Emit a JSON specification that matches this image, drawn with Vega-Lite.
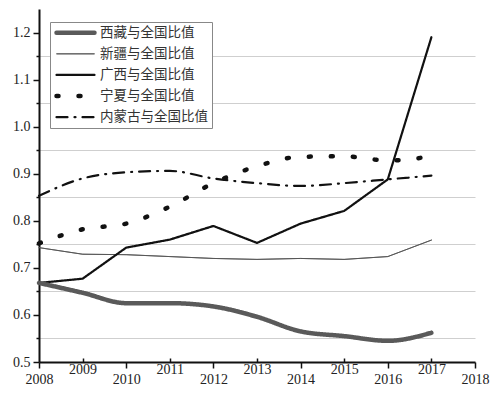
{
  "$schema": "https://vega.github.io/schema/vega-lite/v6.json",
  "width": 436,
  "height": 353,
  "autosize": {"type": "none"},
  "padding": {"left": 39, "top": 9, "right": 22, "bottom": 34},
  "background": "white",
  "config": {
    "view": {"stroke": null},
    "axis": {"labelFont": "Liberation Serif", "labelFontSize": 14, "labelColor": "#222", "domainColor": "#111", "domainWidth": 2, "tickColor": "#111", "tickWidth": 1.5, "title": null}
  },
  "data": {"values": [
    {"year": 2008, "series": "西藏与全国比值", "value": 0.668},
    {"year": 2009, "series": "西藏与全国比值", "value": 0.647},
    {"year": 2010, "series": "西藏与全国比值", "value": 0.625},
    {"year": 2011, "series": "西藏与全国比值", "value": 0.625},
    {"year": 2012, "series": "西藏与全国比值", "value": 0.618},
    {"year": 2013, "series": "西藏与全国比值", "value": 0.596},
    {"year": 2014, "series": "西藏与全国比值", "value": 0.565},
    {"year": 2015, "series": "西藏与全国比值", "value": 0.555},
    {"year": 2016, "series": "西藏与全国比值", "value": 0.545},
    {"year": 2017, "series": "西藏与全国比值", "value": 0.562},
    {"year": 2008, "series": "新疆与全国比值", "value": 0.743},
    {"year": 2009, "series": "新疆与全国比值", "value": 0.729},
    {"year": 2010, "series": "新疆与全国比值", "value": 0.728},
    {"year": 2011, "series": "新疆与全国比值", "value": 0.724},
    {"year": 2012, "series": "新疆与全国比值", "value": 0.720},
    {"year": 2013, "series": "新疆与全国比值", "value": 0.718},
    {"year": 2014, "series": "新疆与全国比值", "value": 0.720},
    {"year": 2015, "series": "新疆与全国比值", "value": 0.718},
    {"year": 2016, "series": "新疆与全国比值", "value": 0.724},
    {"year": 2017, "series": "新疆与全国比值", "value": 0.759},
    {"year": 2008, "series": "广西与全国比值", "value": 0.668},
    {"year": 2009, "series": "广西与全国比值", "value": 0.677},
    {"year": 2010, "series": "广西与全国比值", "value": 0.743},
    {"year": 2011, "series": "广西与全国比值", "value": 0.760},
    {"year": 2012, "series": "广西与全国比值", "value": 0.789},
    {"year": 2013, "series": "广西与全国比值", "value": 0.753},
    {"year": 2014, "series": "广西与全国比值", "value": 0.794},
    {"year": 2015, "series": "广西与全国比值", "value": 0.821},
    {"year": 2016, "series": "广西与全国比值", "value": 0.888},
    {"year": 2017, "series": "广西与全国比值", "value": 1.190},
    {"year": 2008, "series": "宁夏与全国比值", "value": 0.752},
    {"year": 2009, "series": "宁夏与全国比值", "value": 0.782},
    {"year": 2010, "series": "宁夏与全国比值", "value": 0.794},
    {"year": 2011, "series": "宁夏与全国比值", "value": 0.830},
    {"year": 2012, "series": "宁夏与全国比值", "value": 0.880},
    {"year": 2013, "series": "宁夏与全国比值", "value": 0.916},
    {"year": 2014, "series": "宁夏与全国比值", "value": 0.936},
    {"year": 2015, "series": "宁夏与全国比值", "value": 0.937},
    {"year": 2016, "series": "宁夏与全国比值", "value": 0.928},
    {"year": 2017, "series": "宁夏与全国比值", "value": 0.937},
    {"year": 2008, "series": "内蒙古与全国比值", "value": 0.853},
    {"year": 2009, "series": "内蒙古与全国比值", "value": 0.890},
    {"year": 2010, "series": "内蒙古与全国比值", "value": 0.903},
    {"year": 2011, "series": "内蒙古与全国比值", "value": 0.906},
    {"year": 2012, "series": "内蒙古与全国比值", "value": 0.890},
    {"year": 2013, "series": "内蒙古与全国比值", "value": 0.880},
    {"year": 2014, "series": "内蒙古与全国比值", "value": 0.874},
    {"year": 2015, "series": "内蒙古与全国比值", "value": 0.880},
    {"year": 2016, "series": "内蒙古与全国比值", "value": 0.888},
    {"year": 2017, "series": "内蒙古与全国比值", "value": 0.896}
  ]},
  "encoding": {
    "x": {"field": "year", "type": "quantitative",
      "scale": {"domain": [2008, 2018], "nice": false, "zero": false},
      "axis": {"values": [2008, 2009, 2010, 2011, 2012, 2013, 2014, 2015, 2016, 2017, 2018], "format": "d", "grid": false, "labelPadding": 4, "labelFlush": false, "labelOverlap": false,
        "tickSize": {"condition": {"test": "datum.value % 2 == 1", "value": -4}, "value": 6}}},
    "y": {"field": "value", "type": "quantitative",
      "scale": {"domain": [0.5, 1.25], "nice": false, "zero": false},
      "axis": {"values": [0.5, 0.55, 0.6, 0.65, 0.7, 0.75, 0.8, 0.85, 0.9, 0.95, 1.0, 1.05, 1.1, 1.15, 1.2],
        "labelExpr": "abs(round(datum.value*20)) % 2 == 1 ? '' : format(datum.value, '.1f')",
        "labelPadding": 3, "labelFlush": false, "labelOverlap": false,
        "tickSize": {"condition": {"test": "abs(round(datum.value*20)) % 2 == 1", "value": 3}, "value": 6},
        "grid": true, "gridColor": "#cfcfcf", "gridWidth": 1,
        "gridOpacity": {"condition": {"test": "abs(round(datum.value*20)) % 2 == 1", "value": 1}, "value": 0}}},
    "color": {"field": "series", "type": "nominal",
      "scale": {"domain": ["西藏与全国比值", "新疆与全国比值", "广西与全国比值", "宁夏与全国比值", "内蒙古与全国比值"], "range": ["#5a5a5a", "#555555", "#111111", "#111111", "#111111"]},
      "legend": {"title": null, "orient": "none", "legendX": 11, "legendY": 13, "symbolType": "stroke", "symbolSize": 100, "symbolOffset": 0, "clipHeight": 13.5,
        "labelFont": "Noto Sans CJK SC", "labelFontSize": 13.5, "labelColor": "#333", "labelOffset": 3,
        "rowPadding": 6.1, "padding": 4, "strokeColor": "#888", "fillColor": "white",
        "encode": {"symbols": {"update": {"strokeCap": {"value": "round"}, "size": {"value": 1444}}}}}},
    "strokeDash": {"field": "series", "type": "nominal",
      "scale": {"domain": ["西藏与全国比值", "新疆与全国比值", "广西与全国比值", "宁夏与全国比值", "内蒙古与全国比值"], "range": [[1, 0], [1, 0], [1, 0], [2, 20], [11, 7, 1, 7]]}},
    "strokeWidth": {"field": "series", "type": "nominal",
      "scale": {"type": "ordinal", "domain": ["西藏与全国比值", "新疆与全国比值", "广西与全国比值", "宁夏与全国比值", "内蒙古与全国比值"], "range": [4.5, 1, 2.2, 4.5, 2.2]}}
  },
  "layer": [
    {"transform": [{"filter": "datum.series == '广西与全国比值' || datum.series == '新疆与全国比值'"}],
     "mark": {"type": "line", "strokeCap": "round", "strokeJoin": "round"}},
    {"transform": [{"filter": "datum.series != '广西与全国比值' && datum.series != '新疆与全国比值'"}],
     "mark": {"type": "line", "strokeCap": "round", "strokeJoin": "round", "interpolate": "monotone"}}
  ]
}
